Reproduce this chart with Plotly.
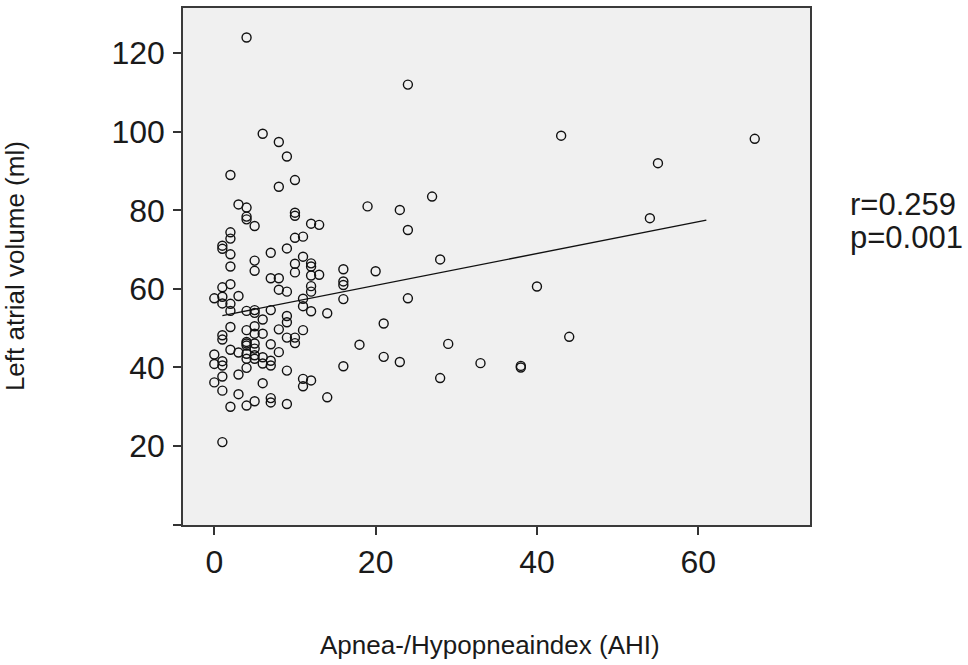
import plotly.graph_objects as go

# AHI (x) and left atrial volume (y), grouped by AHI column
ahi = (
    [0]*4 + [1]*12 + [2]*11 + [3]*5 + [4]*13 + [5]*12 + [6]*6 + [7]*8 + [8]*6 +
    [9]*8 + [10]*8 + [11]*7 + [12]*8 + [13]*2 + [14]*2 + [16]*5 +
    [18, 19, 20, 21, 21, 23, 23, 24, 24, 24, 27, 28, 28, 29, 33, 38, 38, 40, 43, 44, 54, 55, 67]
)
lav = (
    [57.6, 43.3, 40.9, 36.2] +
    [71.0, 70.2, 60.4, 58.0, 56.3, 48.2, 47.1, 41.6, 40.5, 37.7, 34.1, 21.0] +
    [89.0, 74.4, 72.8, 68.8, 65.7, 61.2, 56.2, 54.4, 50.3, 44.5, 30.0] +
    [81.5, 58.2, 43.8, 38.2, 33.2] +
    [124.0, 80.7, 78.4, 77.7, 54.4, 49.5, 46.5, 46.1, 45.6, 43.5, 42.2, 39.9, 30.3] +
    [76.0, 67.2, 64.6, 54.6, 53.9, 50.5, 48.6, 46.1, 44.8, 43.1, 42.2, 31.4] +
    [99.5, 52.2, 48.6, 42.6, 41.0, 36.0] +
    [69.2, 62.7, 54.6, 45.9, 41.7, 40.5, 32.2, 31.1] +
    [97.4, 86.0, 62.7, 59.8, 49.7, 43.9] +
    [93.7, 70.3, 59.3, 53.1, 51.5, 47.6, 39.2, 30.7] +
    [87.7, 79.4, 78.6, 73.0, 66.4, 64.2, 47.6, 46.2] +
    [73.3, 68.2, 57.5, 55.6, 49.5, 37.1, 35.2] +
    [76.6, 66.5, 65.7, 63.4, 60.7, 59.3, 54.3, 36.7] +
    [76.3, 63.6] +
    [53.8, 32.4] +
    [65.0, 61.9, 61.0, 57.4, 40.3] +
    [45.8, 81.0, 64.5, 51.2, 42.7, 80.1, 41.4, 112.0, 75.0, 57.6, 83.5, 67.5, 37.3,
     46.0, 41.1, 40.0, 40.4, 60.6, 99.0, 47.8, 78.0, 92.0, 98.2]
)

# Regression line as drawn in the reference
fit_intercept = 52.8
fit_slope = 0.405
fit_x = [1, 61]
fit_y = [fit_intercept + fit_slope * v for v in fit_x]

x_ticks = [0, 20, 40, 60]
y_ticks = [0, 20, 40, 60, 80, 100, 120]
y_ticktext = ["", "20", "40", "60", "80", "100", "120"]
stats_text = ["r=0.259", "p=0.001"]

FONT = "Arial, Liberation Sans, Helvetica, sans-serif"
INK = "#1a1a1a"
TICK_SIZE = 32
STATS_SIZE = 31

fig = go.Figure()
fig.add_trace(go.Scatter(
    x=ahi, y=lav, mode="markers",
    marker=dict(symbol="circle-open", size=9, color="#111111", line=dict(width=1.4, color="#111111")),
    showlegend=False, hoverinfo="x+y",
))
fig.add_trace(go.Scatter(
    x=fit_x, y=fit_y, mode="lines",
    line=dict(color="#111111", width=1.4),
    showlegend=False, hoverinfo="skip",
))

fig.update_layout(
    width=968, height=665,
    margin=dict(l=183, r=158, t=8, b=140, autoexpand=False),
    paper_bgcolor="white",
    plot_bgcolor="#f0f0f0",
    font=dict(family=FONT, color=INK, size=26),
    xaxis=dict(
        range=[-3.88, 73.85], tickvals=x_ticks, ticks="outside", ticklen=8, tickwidth=1.5,
        tickcolor="#333333", showline=True, linecolor="#3a3a3a", linewidth=1.6, mirror=True,
        showgrid=False, zeroline=False, tickfont=dict(size=TICK_SIZE, family=FONT, color=INK),
        ticklabelstandoff=0,
    ),
    yaxis=dict(
        range=[-0.1, 131.5], tickvals=y_ticks, ticktext=y_ticktext, ticks="outside", ticklen=8,
        tickwidth=1.5, tickcolor="#333333", showline=True, linecolor="#3a3a3a", linewidth=1.6,
        mirror=True, showgrid=False, zeroline=False,
        tickfont=dict(size=TICK_SIZE, family=FONT, color=INK), ticklabelstandoff=2,
    ),
    annotations=[
        dict(text="Left atrial volume (ml)", xref="paper", yref="paper", x=-0.2686, y=0.5,
             textangle=-90, showarrow=False, xanchor="center", yanchor="middle",
             font=dict(size=26, family=FONT, color=INK)),
        dict(text="Apnea-/Hypopneaindex (AHI)", xref="paper", yref="paper", x=0.49, y=-0.2314,
             showarrow=False, xanchor="center", yanchor="middle",
             font=dict(size=26, family=FONT, color=INK)),
        dict(text=stats_text[0], xref="paper", yref="paper", x=1.0606, y=0.62,
             showarrow=False, xanchor="left", yanchor="middle", align="left",
             font=dict(size=STATS_SIZE, family=FONT, color=INK)),
        dict(text=stats_text[1], xref="paper", yref="paper", x=1.0606, y=0.556,
             showarrow=False, xanchor="left", yanchor="middle", align="left",
             font=dict(size=STATS_SIZE, family=FONT, color=INK)),
    ],
)

fig.write_html(
    "out.html",
    config={"displayModeBar": False},
    post_script="document.body.style.margin='0';document.body.style.overflow='hidden';",
)
